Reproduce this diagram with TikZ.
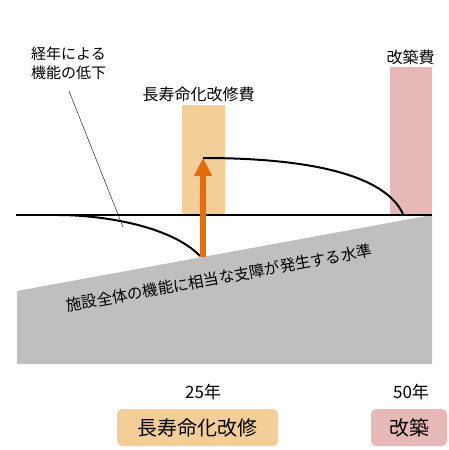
\documentclass[tikz,border=0pt]{standalone}
\usepackage{fontspec}
\setmainfont{Noto Sans CJK JP}
\usetikzlibrary{arrows.meta,positioning}
\definecolor{lifecol}{HTML}{F4CE98}
\definecolor{rebuildcol}{HTML}{E6B8B7}
\definecolor{levelcol}{HTML}{BFBFBF}
\definecolor{arrowcol}{HTML}{E46C0A}
\tikzset{
    label/.style={
           inner sep=0pt,
           font=\fontsize{16}{19}\selectfont
           },
    tag/.style={
           rounded corners=5pt,
           minimum height=37pt,
           inner sep=0pt,
           font=\fontsize{20}{24}\selectfont
           },
    decay/.style={
           line width=2pt
           }
}
\begin{document}
\begin{tikzpicture}[x=1pt, y=-1pt]
\useasboundingbox (0,0) rectangle (449,450);
% cost bars
   \fill[lifecol] (182,105) rectangle (225,215);
   \fill[rebuildcol] (390,67) rectangle (432,215);
% level of serious failure
   \fill[levelcol] (17,291) -- (432,215) -- (432,364) -- (17,364) -- cycle;
   \draw[line width=1.5pt] (16,215) -- (432,215);
   \node[label, font=\fontsize{15.5}{18}\selectfont, rotate=10.4] (level) at (219,278) {施設全体の機能に相当な支障が発生する水準};
% decline curves
   \coordinate (s1) at (58,215);
   \coordinate (e1) at (200,256);
   \coordinate (s2) at (203,158);
   \coordinate (e2) at (403,214);
   \draw[decay] (s1) .. controls (100,215) and (170,225) .. (e1);
   \draw[decay] (s2) .. controls (310,158) and (385,175) .. (e2);
   \coordinate (foot) at (203,257);
   \draw[arrowcol, line width=6.5pt, -{Triangle[width=17pt,length=18pt]}] (foot) -- (s2);
% labels
   \node[label, font=\fontsize{15}{19}\selectfont, align=left, anchor=west] (decline) at (31,63.5) {経年による\\機能の低下};
   \coordinate (tip) at (69,91);
   \coordinate (hit) at (123,227);
   \draw[thin] (tip) -- (hit);
   \node[label] (lifecost) at (198.5,94) {長寿命化改修費};
   \node[label] (rebuildcost) at (410.5,57) {改築費};
   \node[label, font=\fontsize{17}{20}\selectfont] (y25) at (203,392) {25年};
   \node[label, font=\fontsize{17}{20}\selectfont] (y50) at (411,392) {50年};
   \node[tag, fill=lifecol, minimum width=161pt] (life) at (197.5,427.5) {長寿命化改修};
   \node[tag, fill=rebuildcol, minimum width=76pt] (rebuild) at (409,427.5) {改築};
\end{tikzpicture}
\end{document}
